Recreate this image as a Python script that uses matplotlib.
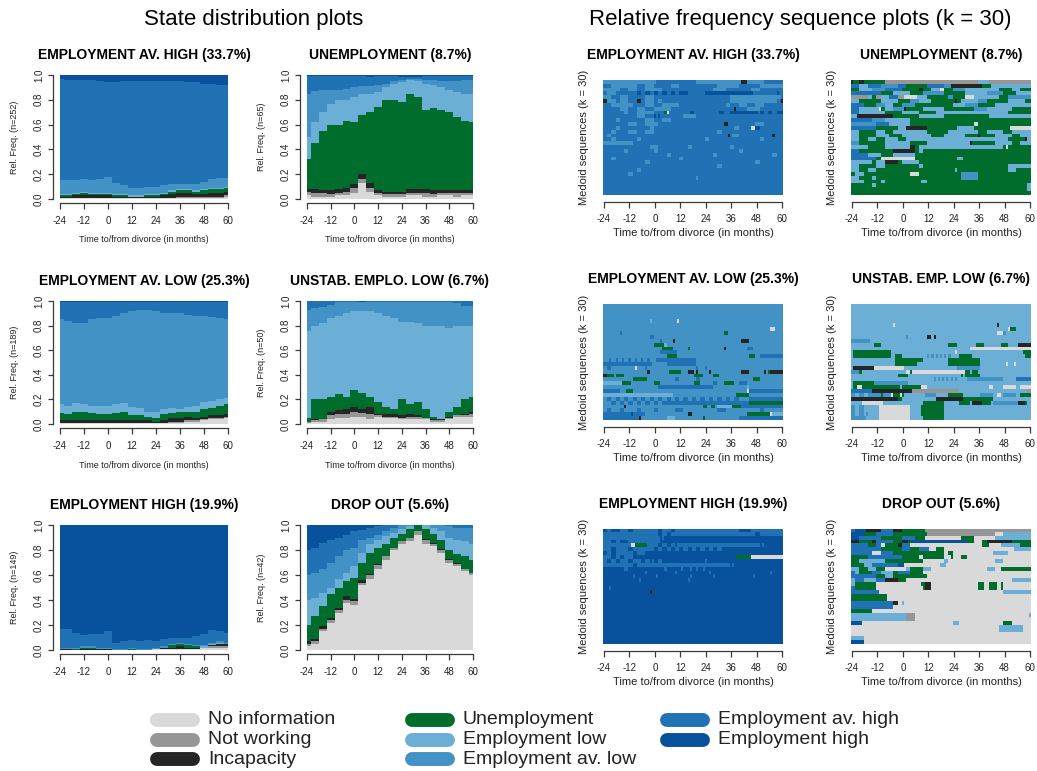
import numpy as np
import matplotlib.pyplot as plt
from matplotlib.colors import ListedColormap
from matplotlib.lines import Line2D

plt.rcParams['font.family'] = ['Liberation Sans', 'DejaVu Sans']
plt.rcParams['axes.unicode_minus'] = False

# state alphabet in stacking order (bottom -> top)
states = ['No information', 'Not working', 'Incapacity', 'Unemployment',
          'Employment low', 'Employment av. low', 'Employment av. high',
          'Employment high']
state_codes = 'NWIULAHE'
state_colors = ['#d9d9d9', '#969696', '#252525', '#006d2c',
                '#6baed6', '#4292c6', '#2171b5', '#08519c']

months = np.arange(-24, 61)
dist_months = [-24, -20, -16, -12, -8, -4, 0, 4, 8, 12, 16, 20,
               24, 28, 32, 36, 40, 44, 48, 52, 56, 60]

cluster_names = ['EMPLOYMENT AV. HIGH', 'UNEMPLOYMENT', 'EMPLOYMENT AV. LOW',
                 'UNSTAB. EMPLO. LOW', 'EMPLOYMENT HIGH', 'DROP OUT']
cluster_short = ['EMPLOYMENT AV. HIGH', 'UNEMPLOYMENT', 'EMPLOYMENT AV. LOW',
                 'UNSTAB. EMP. LOW', 'EMPLOYMENT HIGH', 'DROP OUT']
cluster_pct = [33.7, 8.7, 25.3, 6.7, 19.9, 5.6]
cluster_n = [252, 65, 189, 50, 149, 42]

# state shares per cluster, one row per state (N, W, I, U, L, A, H, E)
dist_av_high = [
    [.01, .01, .01, .01, .01, .01, .01, .01, .01, .01, .01, .01, .01, .01, .01, .01, .01, .01, .01, .01, .01, .02],
    [.00, .00, .00, .00, .00, .00, .00, .00, .00, .00, .00, .00, .00, .00, .00, .01, .01, .01, .01, .01, .01, .01],
    [.01, .01, .02, .02, .02, .02, .02, .01, .01, .01, .01, .01, .01, .02, .03, .03, .03, .02, .02, .03, .03, .03],
    [.01, .01, .01, .02, .01, .01, .01, .01, .01, .00, .00, .01, .01, .01, .02, .02, .02, .02, .03, .03, .03, .03],
    [.01, .01, .01, .01, .01, .01, .01, .01, .01, .01, .01, .01, .01, .01, .01, .01, .01, .01, .01, .01, .01, .01],
    [.11, .11, .10, .10, .10, .11, .13, .09, .07, .06, .06, .06, .06, .06, .05, .04, .04, .05, .06, .07, .08, .07],
    [.82, .81, .81, .80, .81, .79, .76, .81, .84, .86, .86, .85, .85, .84, .83, .83, .82, .82, .79, .77, .75, .75],
    [.03, .04, .04, .04, .04, .05, .06, .06, .05, .05, .05, .05, .05, .05, .05, .05, .06, .06, .07, .07, .08, .08],
]
dist_unemp = [
    [.03, .02, .02, .02, .03, .03, .05, .13, .06, .03, .02, .02, .02, .03, .03, .02, .02, .03, .03, .02, .03, .03],
    [.03, .03, .03, .02, .02, .03, .04, .03, .03, .02, .02, .02, .02, .02, .02, .03, .02, .02, .02, .03, .02, .02],
    [.02, .03, .02, .03, .03, .03, .03, .04, .04, .02, .02, .02, .02, .03, .03, .03, .03, .02, .02, .02, .02, .02],
    [.24, .37, .48, .53, .52, .54, .50, .48, .57, .67, .74, .74, .72, .77, .74, .64, .66, .65, .63, .59, .56, .55],
    [.18, .17, .15, .17, .20, .17, .20, .17, .15, .12, .10, .13, .16, .11, .13, .21, .19, .18, .18, .20, .22, .23],
    [.35, .25, .18, .11, .08, .09, .08, .06, .06, .06, .03, .02, .02, .01, .02, .03, .04, .05, .07, .09, .11, .11],
    [.14, .12, .11, .11, .11, .10, .09, .08, .07, .07, .06, .04, .02, .01, .01, .03, .03, .04, .04, .04, .03, .03],
    [.01, .01, .01, .01, .01, .01, .01, .01, .02, .01, .01, .01, .02, .02, .02, .01, .01, .01, .01, .01, .01, .01],
]
dist_av_low = [
    [.01, .01, .01, .01, .01, .01, .01, .01, .01, .01, .01, .01, .01, .01, .01, .01, .02, .02, .03, .04, .04, .05],
    [.00, .00, .00, .00, .00, .00, .00, .00, .00, .00, .00, .00, .00, .00, .01, .01, .01, .01, .01, .01, .01, .01],
    [.02, .02, .02, .02, .02, .02, .02, .02, .02, .02, .02, .02, .01, .02, .03, .03, .03, .02, .02, .02, .02, .02],
    [.06, .05, .07, .07, .06, .05, .05, .06, .07, .04, .04, .03, .03, .05, .04, .05, .04, .05, .06, .06, .08, .08],
    [.07, .07, .07, .06, .06, .07, .07, .07, .07, .07, .06, .04, .05, .04, .04, .02, .04, .05, .06, .06, .05, .05],
    [.69, .69, .65, .66, .70, .71, .71, .72, .73, .78, .80, .83, .82, .78, .77, .78, .75, .73, .70, .68, .66, .64],
    [.14, .15, .17, .17, .14, .13, .13, .11, .09, .07, .06, .06, .07, .09, .09, .09, .10, .11, .11, .12, .13, .14],
    [.01, .01, .01, .01, .01, .01, .01, .01, .01, .01, .01, .01, .01, .01, .01, .01, .01, .01, .01, .01, .01, .01],
]
dist_unstab = [
    [.01, .02, .02, .04, .05, .05, .06, .06, .04, .06, .05, .05, .04, .04, .04, .04, .02, .02, .04, .06, .06, .06],
    [.01, .01, .02, .03, .03, .03, .04, .03, .04, .01, .01, .01, .01, .02, .02, .01, .01, .01, .01, .01, .01, .02],
    [.00, .01, .00, .03, .03, .04, .04, .03, .06, .01, .02, .02, .02, .02, .01, .00, .01, .01, .01, .00, .01, .02],
    [.03, .16, .16, .12, .13, .10, .14, .13, .08, .10, .06, .04, .13, .08, .11, .07, .02, .00, .04, .07, .12, .12],
    [.71, .60, .62, .64, .64, .68, .64, .67, .70, .72, .74, .74, .63, .67, .64, .68, .74, .76, .68, .66, .60, .58],
    [.17, .14, .13, .11, .11, .09, .07, .07, .07, .09, .11, .13, .16, .16, .17, .19, .19, .19, .21, .18, .16, .16],
    [.07, .06, .05, .03, .01, .01, .01, .00, .01, .01, .01, .01, .01, .01, .01, .01, .01, .01, .01, .02, .04, .04],
    [.00, .00, .00, .00, .00, .00, .00, .01, .00, .00, .00, .00, .00, .00, .00, .00, .00, .00, .00, .00, .00, .00],
]
dist_high = [
    [.00, .00, .00, .00, .00, .00, .00, .00, .00, .00, .00, .00, .01, .01, .01, .01, .01, .01, .02, .02, .02, .02],
    [.00, .00, .00, .00, .00, .00, .00, .00, .00, .00, .00, .00, .00, .00, .00, .00, .00, .00, .00, .01, .01, .01],
    [.01, .01, .00, .01, .01, .01, .01, .00, .00, .00, .00, .00, .00, .01, .01, .02, .01, .01, .00, .01, .02, .02],
    [.00, .00, .01, .01, .01, .00, .00, .00, .00, .01, .00, .00, .00, .00, .02, .02, .02, .01, .00, .00, .00, .00],
    [.00, .00, .00, .00, .00, .00, .00, .00, .00, .00, .00, .00, .00, .00, .00, .00, .00, .00, .01, .01, .01, .00],
    [.01, .01, .01, .01, .01, .01, .01, .01, .01, .01, .01, .01, .01, .01, .01, .01, .01, .01, .01, .01, .01, .01],
    [.15, .15, .12, .09, .10, .11, .13, .05, .06, .06, .06, .07, .05, .06, .05, .04, .05, .07, .09, .10, .08, .08],
    [.83, .83, .86, .88, .87, .87, .85, .94, .93, .92, .93, .92, .93, .91, .90, .90, .90, .89, .87, .84, .85, .86],
]
dist_dropout = [
    [.03, .05, .15, .22, .30, .38, .36, .52, .57, .65, .72, .80, .85, .87, .92, .85, .83, .78, .70, .67, .63, .60],
    [.02, .02, .02, .02, .02, .02, .03, .02, .03, .03, .03, .02, .02, .03, .03, .03, .02, .02, .02, .02, .02, .02],
    [.02, .02, .02, .02, .02, .03, .02, .02, .01, .01, .00, .00, .00, .00, .00, .01, .01, .01, .01, .01, .00, .00],
    [.13, .18, .16, .19, .16, .12, .17, .14, .17, .13, .10, .08, .06, .07, .05, .08, .07, .07, .07, .07, .10, .10],
    [.20, .15, .11, .05, .07, .07, .09, .08, .07, .06, .06, .04, .04, .02, .00, .03, .05, .07, .10, .11, .12, .13],
    [.20, .20, .19, .20, .18, .18, .15, .10, .05, .04, .04, .04, .03, .01, .00, .00, .02, .05, .09, .10, .11, .13],
    [.20, .20, .21, .18, .15, .12, .13, .08, .08, .07, .05, .02, .00, .00, .00, .00, .00, .00, .01, .02, .02, .02],
    [.20, .18, .14, .12, .10, .08, .05, .04, .02, .01, .00, .00, .00, .00, .00, .00, .00, .00, .00, .00, .00, .00],
]

# medoid sequences, top row first; "A-24 H1" = state A from month -24, H from month 1 ...
seq_av_high = [
    "A-24 H1 A20 I41 A44 H52",
    "H-24 A-20 H-8 A-4 H0 A8 H12 A30 H40 A50",
    "A-24 H-16 A-12 H-8 A-4 H4 A28 H34 A46 H50",
    "H-24 A-22 H-18 E-8 H-6 E-4 H-2 E0 H2 E4 H6 E8 H10 E12 H16 E24 H47 E58 H59",
    "A-24 H-20 A-16 H-12 A-4 H0 A36 H60",
    "I-24 A-22 H-18 A-16 H-12 I-8 H-6 A-4 H0 A2 H4 A36 H58 I60",
    "H-24 A-20 H-10 A-4 H0 A4 H12 A34 H36 A40 H44 A48 H52",
    "H-24 A-16 H-12 A-8 H-4 A0 H8 I38 H39 A44 H50",
    "H-24 A-14 H-12 A-8 H0 U5 N6 H7 E17 H19 E31 H33 E36 H49 E50 H52 E54 H56 E58",
    "H-24 A-8 H-4 E0 H1 E2 H3 A14 H20",
    "H-24 A-18 H-16 A-4 H0 A4 H8",
    "H-24 A-12 H-8 A-4 H2 I33 H35 A48 H52",
    "H-24 A-18 H-16 A-2 H0 A38 H40 N46 E48 H50",
    "H-24 A-20 H-18 A-12 H-8 A-4 H0 A30 H32",
    "H-24 A-22 H-20 I35 H36 A37 H40 I56 H57",
    "H-24 A-20 H-18 A-8 H-6 A24 H26 A50 H52",
    "A-24 H-10",
    "H-24 A-2 H2 A16 H18 A36 H38",
    "H-24 A-14 H-12 A0 H2 A40 H42",
    "H-24 A6 H8 A28 H30 A56 H58",
    "H-24 A-20 H-18 A12 H14",
    "H-24 A-4 H-2 A48 H50",
    "H-24 A30 H32",
    "H-24 A-8 H-6",
    "H-24 A-12 H-10",
    "H-24 A20 H21",
    "H-24",
    "H-24",
    "H-24",
    "H-24",
]
seq_unemp = [
    "I-24 U-23 I-20 U-18 W-8 L36 W41",
    "H-24 L-20 H-16 A-10 H-2 U2 H12 A20 I23 U38 L42",
    "U-24 L-20 A-14 H-8 U0 I8 U10 L14 N18 U20 A24 L30 U46 L52 U56",
    "H-24 U-10 L-4 U4 A10 U20 L30 A40 U48 L54",
    "W-24 L-16 U-14 W-12 L-10 H-6 W-2 N1 L7 U12 A22 U24 N30 L34 U46 A50",
    "L-24 U-20 L-10 U-2 A4 L8 U14 I25 U26 L28 A36 U40 L50 U58",
    "H-24 U-18 A-12 L-8 U-4 A0 U6 L24 A30 U36 L44",
    "H-24 L-20 N-11 U-10 L-8 A-4 I1 U2 L10 U20 A34 L40 U52",
    "H-24 L-20 U-8 L0 U8 L16 U50",
    "L-24 I-21 U-4 L8 U20 L41",
    "H-24 A-14 L-8 U4",
    "A-24 H-12 L-6 U4 N34 U36",
    "H-24 U-12 L-2 I2 U12 L26 U34 N51",
    "L-24 U-20 L-12 U-8 L-4 U12 L22 U36 L40 U48 L52",
    "L-24 U-20 L-12 U-6 L0 U14 L20 U30 I36 U37 L44 U52 L56",
    "L-24 U-20 L-16 U-12 L-8 U-2 L2 U50 I58 L59",
    "A-24 U-20 L-8 U4 L12 I32 U33 L44 U52 L56",
    "L-24 U-16 L-8 I4 U6 L8 U48 N49 U50",
    "H-24 U-20 I-4 U6 L8 U10",
    "H-24 L-16 U-10 L-4 U6",
    "H-24 U-12 N-10 U6 L26 U29",
    "L-24 U-14 L-12 I-8 U-2 L0 U8",
    "L-24 U-20 L-12 U-8 L8 U10 L50",
    "L-24 U-20 L-16 U-12 L25 U26 L50 U54",
    "U-24 L-22 U-18 N4 U8 A28 U36",
    "L-24 U-20 L-14 U-12 A28 U36",
    "L-24 U-18 L-10 U-8 L9 U12",
    "U-24 L-14 U-12 L59",
    "U-24 L59",
    "U-24",
]
seq_av_low = [
    "A-24",
    "A-24",
    "A-24",
    "A-24",
    "A-24 L-2 A-1 N11 A12",
    "A-24",
    "A-24 N55 A57",
    "A-24 H-16 A-15 U33 A35",
    "A-24 H-2 A0",
    "A-24 H3 A4 I9 A10 I41 A45",
    "A-24 U0 L5 A6",
    "A-24 U4 A9 U16 A17 I33 A34 H44 A47",
    "A-24 H3 A11",
    "A-24 U6 A11 U45 A48 H50",
    "A-24 H-21 A-20 H-18 A-17 H-15 A-14 H-12 A-11 H-9 A-8 H-6 A-5 H-3 A-2 H1 A20",
    "H-24 A-1 H6 A20",
    "A-24 H-22 A-20 N-9 A-8 H-4 A-3 H20 A21 H24 A25",
    "A-24 I-3 A-2 U7 A13 I16 A19 I20 A21 I26 A27 I41 A45 I52 A53 U54 I55",
    "I-24 U-22 A-19 U-18 A-14 U19 A23 U28 A31",
    "A-24 U-10 A-3 H10 A12 H20 A22 U47 A50",
    "L-24 U-15 A-11 U0 A3 U19 A22 H28 A30 U33 A38 H40 A44",
    "A-24 H2 A28 L44 A45",
    "H-24 A-16 U-13 A-10 N44 H45",
    "L-24 A9 U39 A45",
    "A-24 H-22 A-20 H-18 A-16 H-14 A-12 H-10 A-8 H-6 A-4 H-2 A0 H2 A4 H6 A8 H10 A12 H14 A16 H18 A20 H22 A24 H26 A28 H30 A32 H34 A36 H38 A40 H45",
    "A-24 H-20 A-18 H-16 A-14 H-12 A-10 H-8 A-6 H-4 A-2 H0 A2 H4 A45 U45",
    "A-24 I-14 A-13 U23 A25 U27 A29 L30 U37 H41",
    "A-24 H-22 A-20 H-16 A-14 H-8 A-6 H0 A2 H10 A14 H30 A34 H50 A52",
    "H-24 E-11 H-10 A-4 I16 A18 U44 N55 L56",
    "H-24 I-7 A-6 L6 A10 U23 A24 H40",
]
seq_unstab = [
    "L-24",
    "L-24",
    "L-24",
    "L-24",
    "L-24",
    "L-24 N-4 L-3 I45 L46",
    "L-24 N50 U51 L54",
    "L-24 N45 A48 L49",
    "L-24 A2 L3 I12 L14 I15 L16",
    "A-24 L-15",
    "L-24 U-13 L-10 U22 L26 U35 L39 U47 L50 I55",
    "L-24 N32",
    "L-24 U-23 L-5 N25 L26 U57",
    "L-24 U-23 L-5 U-3 L0 A12 L13 A14 L15 A16 L17 A18 L19 A20 L21 A22 L23 U27 L33 U58",
    "L-24 U-3 L10 U22 L37",
    "L-24 U-3 L7 U22 L37 N49 L50 N53 L54",
    "L-24 I-23 N-13 L1 A26 L37",
    "A-24 U-20 L-19 N2 U4 N5 U30 L32 U33 L36",
    "L-24 U-2 L3 U28 L29 U30 L37",
    "L-24 A15 L16 A17 L18 A19 L20 A21 L22 A23 L24 A25 L26 A31 L48 H54",
    "L-24 U-23 A-13 L3",
    "L-24 U-23 N-21 U-19 L-1 U0 N9 L12 N41 L43 N48 L54 N56",
    "H-24 I-14 W5 L27 W59",
    "A-24 L-22 A-20 L-18 A-16 U-10 A-9 N-5 U-4 N-1 U0 L1 A11 L16 U22 L29 A37 L43 N45 L47 A48 L54 U56",
    "I-24 U-2 L0 I16 U29 L43",
    "L-24 N-19 L-9 U10 L20 U27 L32 I33 U38 L42 A43 I55 U58 L59",
    "A-24 L-22 A-20 L-18 N-11 L4 U9 L20",
    "A-24 L-22 A-20 L-18 N-11 L4 U9 L20",
    "A-24 L-22 A-20 L-18 A-17 L-16 N-11 L4 U9 L20",
    "A-24 L-17 N-11 L4 U10 L20",
]
seq_high = [
    "E-24 H-22 E-20 H-16 E-12 H-10 E2 H4 E8 H10 E40 H46",
    "H-24 E2 H4 E6 H8 E48 H50",
    "H-24 E3 H4 E5",
    "H-24 E-20 H-18 E-16 H-12 E3",
    "H-24 N-11 U-9 H-3 E2 H4 E6 H8 E10 H11 E50 H51 E52",
    "H-24 E-20 H-18 E-12 H-10 E0 H2 E4 H6 E8 H10 E12 H14 E16 H18 E20 H22 E24 H26 E28 H30 E32",
    "E-24 H-22 E-20 H-18 E-10 H-8 E-4",
    "H-24 E-20 H-18 E-16 H-14 E-10 U39 N46",
    "H-24 E-22 H-20 E-18 H-16 E-12 H-10 E-6 H-4 E-2 H-1 E0 H2 E4 H24 E25",
    "H-24 E-10 H-8 E36 H37 E38",
    "E-24 H-14 E-12 H5 E6 H13 E14 H17 E18 H20 E21 H23 E24",
    "E-24 H-4 E-3 H10 E11 H26 E27 H55 E56",
    "E-24 H-10 E-9 H1 E2 H17 E18 H28 E29 H47 E48",
    "E-24 H-7 E-6 H16 E17",
    "E-24",
    "E-24 H-21 E-20",
    "E-24 I-2 E-1",
    "E-24",
    "E-24",
    "E-24",
    "E-24",
    "E-24",
    "E-24",
    "E-24",
    "E-24",
    "E-24",
    "E-24",
    "E-24",
    "E-24",
    "E-24",
]
seq_dropout = [
    "H-24 E-22 I-17 H-10 I-4 U0 W11",
    "E-24 U-18 H-12 U-4 W12 N44 L48",
    "E-24 H-20 U-10 H0 U6 N11 U28 N34 L44",
    "I-24 U-20 I-14 H-12 U-4 I0 U3 E5 U31 N34 U38 I40 U52",
    "H-24 U-16 H-12 N-10 U-8 I-2 H0 N4 U38 N41 L47 U56",
    "H-24 U-10 H0 U4 H8 N13 U16 N20 L53",
    "H-24 N-14 H-10 U-4 N20 U22 N24 L43 N50",
    "U-24 H-16 U0 N8 U10 N20 U23 N24 U28 N31",
    "U-24 L-20 U-8 N10 L20 N22 L44 N48",
    "U-24 L-18 H-14 E-2 N1 L18 N21",
    "L-24 U-20 L-16 U-12 N-8 L2 U4 L10 N14 L40 N44 U47",
    "H-24 L-22 U-20 H-14 L-10 U-4 H-2 U4 N10",
    "H-24 U-12 L-8 U-4 N12",
    "L-24 H-22 L-18 H-12 I-8 U-2 N2 L52",
    "L-24 U-22 N-12 U9 I11 N14 U36 N39 U41 N45 U47 N48",
    "H-24 U-22 N-12 U10 I11 N14 U36 N39 U41 N45 U47 N48",
    "H-24 N-11 L48",
    "U-24 N-7",
    "U-24 N-7",
    "H-24 I-4 N-2 L0 N1",
    "H-24 N-4",
    "U-24 N-14",
    "L-24 W2 N6 L60",
    "L-24 W2 N6",
    "E-24 N-19 L24 N27 U48 N52",
    "N-24 L46 N57",
    "N-24 L46 N57",
    "N-24",
    "L-24 N-18",
    "E-24 N-18",
]

dists = [dist_av_high, dist_unemp, dist_av_low, dist_unstab, dist_high, dist_dropout]
seqs = [seq_av_high, seq_unemp, seq_av_low, seq_unstab, seq_high, seq_dropout]

W, H = 1037, 771
fig = plt.figure(figsize=(W / 100, H / 100), dpi=100)
axis_col = '#3a3a3a'
month_ticks = [-24, -12, 0, 12, 24, 36, 48, 60]
xlab = 'Time to/from divorce (in months)'


def px_axes(x0, y0, x1, y1):
    return fig.add_axes([x0 / W, 1 - y1 / H, (x1 - x0) / W, (y1 - y0) / H])


def px_text(x, y, s, **kw):
    fig.text(x / W, 1 - y / H, s, **kw)


def expand(row):
    seq = np.zeros(len(months), dtype=int)
    for part in row.split():
        seq[months >= int(part[1:])] = state_codes.index(part[0])
    return seq


def bottom_axis(ax, outward, size, pad):
    for side in ('top', 'right'):
        ax.spines[side].set_visible(False)
    ax.spines['bottom'].set_position(('outward', outward))
    ax.spines['bottom'].set_bounds(-24, 60)
    ax.spines['bottom'].set_color(axis_col)
    ax.spines['bottom'].set_linewidth(0.9)
    ax.set_xticks(month_ticks)
    ax.tick_params(axis='x', length=4, width=0.9, color=axis_col,
                   labelsize=size, pad=pad, labelcolor='#222222')


left_cols = [(60, 228), (307, 473)]
left_rows = [(75, 199), (301, 424), (525, 650)]
right_cols = [(603, 783), (851, 1031)]
right_rows = [(80, 195), (304, 420), (529, 644)]

# state distribution plots
for i in range(6):
    r, c = divmod(i, 2)
    x0, x1 = left_cols[c]
    y0, y1 = left_rows[r]
    ax = px_axes(x0, y0, x1, y1)
    shares = np.array(dists[i], dtype=float)
    shares /= shares.sum(axis=0)
    tops = np.cumsum(shares, axis=0)
    for k in range(len(states) - 1, -1, -1):
        ax.fill_between(dist_months, 0, tops[k], step='mid',
                        color=state_colors[k], lw=0)
    ax.set_xlim(-24, 60)
    ax.set_ylim(0, 1)
    bottom_axis(ax, 3, 7, 5)
    ax.spines['left'].set_position(('outward', 5))
    ax.spines['left'].set_bounds(0, 1)
    ax.spines['left'].set_color(axis_col)
    ax.spines['left'].set_linewidth(0.9)
    ax.set_yticks([0, 0.2, 0.4, 0.6, 0.8, 1.0])
    ax.set_yticklabels(['0.0', '0.2', '0.4', '0.6', '0.8', '1.0'],
                       rotation=90, va='center')
    ax.tick_params(axis='y', length=3.5, width=0.9, color=axis_col,
                   labelsize=7, pad=3, labelcolor='#222222')
    px_text((x0 + x1) / 2, y0 - 20, f'{cluster_names[i]} ({cluster_pct[i]}%)',
            ha='center', va='center', fontsize=10, fontweight='bold')
    px_text(x0 - 45, (y0 + y1) / 2, f'Rel. Freq. (n={cluster_n[i]})',
            rotation=90, ha='center', va='center', fontsize=6.5, color='#222222')
    if r < 2:
        px_text((x0 + x1) / 2, y1 + 41, xlab, ha='center', va='center',
                fontsize=6.5, color='#222222')

# relative frequency sequence plots
cmap = ListedColormap(state_colors)
for i in range(6):
    r, c = divmod(i, 2)
    x0, x1 = right_cols[c]
    y0, y1 = right_rows[r]
    ax = px_axes(x0, y0, x1, y1)
    mat = np.array([expand(row) for row in seqs[i]])
    ax.imshow(mat, cmap=cmap, vmin=-0.5, vmax=len(states) - 0.5,
              aspect='auto', interpolation='nearest',
              extent=(-24.5, 60.5, 0, len(seqs[i])))
    ax.set_xlim(-24.5, 60.5)
    ax.set_ylim(0, len(seqs[i]))
    bottom_axis(ax, 5, 7, 5)
    ax.spines['left'].set_visible(False)
    ax.set_yticks([])
    px_text((x0 + x1) / 2, y0 - 25, f'{cluster_short[i]} ({cluster_pct[i]}%)',
            ha='center', va='center', fontsize=10, fontweight='bold')
    px_text(x0 - 19, (y0 + y1) / 2, 'Medoid sequences (k = 30)',
            rotation=90, ha='center', va='center', fontsize=8, color='#222222')
    px_text((x0 + x1) / 2, y1 + 38, xlab, ha='center', va='center',
            fontsize=8, color='#222222')

px_text(254, 20, 'State distribution plots', ha='center', va='center', fontsize=16)
px_text(800, 20, 'Relative frequency sequence plots (k = 30)',
        ha='center', va='center', fontsize=16)

# legend, three states per column
leg_x = [150, 405, 660]
leg_y = [720, 740, 759]
for k, name in enumerate(states):
    col, row = divmod(k, 3)
    x, y = leg_x[col], leg_y[row]
    fig.add_artist(Line2D([(x + 7) / W, (x + 43) / W], [1 - y / H, 1 - y / H],
                          transform=fig.transFigure, lw=10,
                          solid_capstyle='round', color=state_colors[k]))
    px_text(x + 58, y, name, ha='left', va='center', fontsize=14, color='#222222')

fig.savefig('out.png', dpi=100)
